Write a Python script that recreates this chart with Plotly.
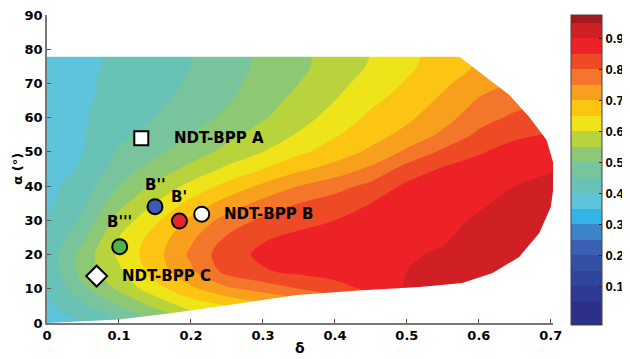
import numpy as np
import plotly.graph_objects as go

# ---------------- data ----------------
delta_grid = [0.0, 0.05, 0.10, 0.15, 0.20, 0.25, 0.30, 0.35, 0.40, 0.45, 0.50, 0.55, 0.60, 0.65, 0.72]
alpha_grid = [0, 5, 10, 15, 20, 25, 30, 35, 40, 45, 50, 55, 60, 65, 70, 75, 80]

# one list per delta column, values listed for alpha = 0, 5, ..., 80
ratio_by_delta = [
    [0.37, 0.39, 0.40, 0.41, 0.42, 0.41, 0.40, 0.39, 0.385, 0.38, 0.378, 0.376, 0.374, 0.372, 0.371, 0.37, 0.37],
    [0.40, 0.44, 0.49, 0.52, 0.52, 0.49, 0.46, 0.44, 0.425, 0.405, 0.40, 0.397, 0.395, 0.393, 0.391, 0.39, 0.39],
    [0.44, 0.50, 0.56, 0.59, 0.61, 0.60, 0.57, 0.535, 0.50, 0.475, 0.455, 0.44, 0.43, 0.42, 0.415, 0.41, 0.41],
    [0.49, 0.56, 0.63, 0.67, 0.68, 0.67, 0.64, 0.60, 0.56, 0.52, 0.49, 0.465, 0.45, 0.44, 0.435, 0.43, 0.43],
    [0.54, 0.62, 0.69, 0.74, 0.76, 0.74, 0.71, 0.665, 0.615, 0.565, 0.525, 0.50, 0.48, 0.465, 0.455, 0.45, 0.45],
    [0.59, 0.65, 0.74, 0.815, 0.83, 0.805, 0.77, 0.72, 0.665, 0.61, 0.565, 0.535, 0.51, 0.495, 0.485, 0.48, 0.48],
    [0.63, 0.68, 0.77, 0.845, 0.86, 0.845, 0.81, 0.765, 0.71, 0.65, 0.60, 0.57, 0.545, 0.53, 0.52, 0.51, 0.51],
    [0.66, 0.71, 0.80, 0.86, 0.875, 0.86, 0.835, 0.80, 0.75, 0.69, 0.64, 0.605, 0.58, 0.565, 0.55, 0.54, 0.54],
    [0.70, 0.75, 0.83, 0.87, 0.88, 0.87, 0.85, 0.825, 0.78, 0.72, 0.675, 0.645, 0.62, 0.60, 0.585, 0.57, 0.57],
    [0.74, 0.80, 0.86, 0.88, 0.89, 0.88, 0.87, 0.85, 0.815, 0.76, 0.71, 0.68, 0.66, 0.64, 0.62, 0.605, 0.60],
    [0.78, 0.85, 0.905, 0.90, 0.895, 0.89, 0.88, 0.87, 0.86, 0.82, 0.76, 0.715, 0.69, 0.67, 0.655, 0.64, 0.635],
    [0.82, 0.88, 0.91, 0.91, 0.905, 0.895, 0.89, 0.88, 0.87, 0.855, 0.81, 0.76, 0.73, 0.71, 0.69, 0.675, 0.67],
    [0.86, 0.90, 0.92, 0.92, 0.92, 0.915, 0.905, 0.895, 0.885, 0.87, 0.845, 0.81, 0.78, 0.755, 0.73, 0.705, 0.70],
    [0.88, 0.91, 0.925, 0.925, 0.925, 0.92, 0.915, 0.91, 0.90, 0.89, 0.87, 0.84, 0.81, 0.78, 0.755, 0.73, 0.72],
    [0.90, 0.92, 0.93, 0.93, 0.93, 0.925, 0.92, 0.915, 0.91, 0.90, 0.88, 0.86, 0.83, 0.80, 0.77, 0.745, 0.74],
]

# outline of the computed region (delta, alpha)
edge_delta = [0.0, 0.10, 0.175, 0.26, 0.347, 0.438, 0.518, 0.577, 0.619, 0.656, 0.684, 0.700, 0.705, 0.705, 0.694, 0.670, 0.642, 0.573, 0.0]
edge_alpha = [0.0, 1.0, 2.9, 5.5, 8.2, 9.6, 10.5, 11.7, 14.6, 19.3, 26.3, 34.0, 41.8, 45.6, 53.5, 60.2, 66.7, 77.8, 77.8]

point_labels = ["NDT-BPP A", "NDT-BPP B", "NDT-BPP C", "B''", "B'", "B'''"]
point_delta = [0.131, 0.215, 0.069, 0.150, 0.184, 0.101]
point_alpha = [54.0, 31.8, 13.7, 34.0, 29.8, 22.3]

x_ticks = [0, 0.1, 0.2, 0.3, 0.4, 0.5, 0.6, 0.7]
x_tick_text = ["0", "0.1", "0.2", "0.3", "0.4", "0.5", "0.6", "0.7"]
y_ticks = [0, 10, 20, 30, 40, 50, 60, 70, 80, 90]
cb_ticks = [0.1, 0.2, 0.3, 0.4, 0.5, 0.6, 0.7, 0.8, 0.9]

# ---------------- styling ----------------
level_colors = [
    "#2b2f88", "#2d3992", "#30449b", "#3450a5", "#3960b2", "#3d84c8",
    "#35b5e6", "#5dc4dc", "#68c2b6", "#78c49c", "#8dc874", "#b9d33c",
    "#efe41a", "#fcc513", "#f8a01e", "#f3762a", "#ef4a26", "#ec2226",
    "#d11f26", "#a3191d",
]
n = len(level_colors)
colorscale = [[0.0, level_colors[0]]]
for k, c in enumerate(level_colors):
    lo = max(0.0, (k + 0.25) / n)
    hi = min(1.0, (k + 1.25) / n)
    colorscale.append([lo, c])
    colorscale.append([hi, c])
colorscale[-1][0] = 1.0

FONT = "DejaVu Sans, Verdana, sans-serif"
FONT_NARROW = "Liberation Sans, Arial, sans-serif"

z = np.array(ratio_by_delta).T

fig = go.Figure()
fig.add_trace(go.Contour(
    x=delta_grid, y=alpha_grid, z=z,
    colorscale=colorscale,
    autocontour=False,
    contours=dict(start=0, end=0.95, size=0.05, coloring="fill", showlines=False),
    line=dict(width=0),
    hoverinfo="skip",
    colorbar=dict(
        x=1.0356, xanchor="left", xpad=0, ypad=0,
        y=0.497, yanchor="middle",
        thickness=31, thicknessmode="pixels",
        len=310, lenmode="pixels",
        tickvals=cb_ticks, ticktext=[f"{v:.1f}" for v in cb_ticks],
        ticks="inside", ticklen=3, tickcolor="#222",
        ticklabeloverflow="allow",
        tickfont=dict(family=FONT_NARROW, size=13, color="black", weight="bold"),
        outlinewidth=1, outlinecolor="#444",
    ),
))

# white mask outside the computed region
outer_x = [-0.02, -0.02, 0.75, 0.75, -0.02]
outer_y = [-2, 92, 92, -2, -2]
fig.add_trace(go.Scatter(
    x=outer_x + edge_delta + [edge_delta[0]],
    y=outer_y + edge_alpha + [edge_alpha[0]],
    mode="lines", fill="toself", fillcolor="white",
    line=dict(width=0, color="white"), hoverinfo="skip", showlegend=False,
))

symbols = ["square", "circle", "diamond", "circle", "circle", "circle"]
fills = ["white", "white", "white", "#3c5cb2", "#e8262a", "#4db34a"]
sizes = [14, 15, 16, 15, 15, 15]
fig.add_trace(go.Scatter(
    x=point_delta, y=point_alpha, mode="markers",
    marker=dict(symbol=symbols, color=fills, size=sizes, opacity=1,
                line=dict(color="black", width=2)),
    hoverinfo="skip", showlegend=False,
))

shifts = [(31, 0, "left"), (20, 0, "left"), (23, 0, "left"),
          (1, 22, "center"), (0, 24, "center"), (0, 25, "center")]
for lab, xd, ya, (dx, dy, anc) in zip(point_labels, point_delta, point_alpha, shifts):
    fig.add_annotation(x=xd, y=ya, text=f"<b>{lab}</b>", showarrow=False,
                       xanchor=anc, yanchor="middle", xshift=dx, yshift=dy,
                       font=dict(family=FONT, size=15, color="black"))

fig.add_annotation(x=0.5, y=-0.115, xref="paper", yref="paper", text="<b>δ</b>",
                   xanchor="center", yanchor="bottom",
                   showarrow=False, font=dict(family=FONT, size=14, color="black"))
fig.add_annotation(x=-0.06, y=0.5, xref="paper", yref="paper", text="<b>α (°)</b>",
                   xanchor="center", yanchor="middle",
                   textangle=-90, showarrow=False,
                   font=dict(family=FONT, size=13, color="black"))

axis_common = dict(showgrid=False, zeroline=False, showline=True,
                   linecolor="#777", linewidth=1.5, ticks="inside", ticklen=4,
                   tickcolor="#555", ticklabeloverflow="allow",
                   tickfont=dict(family=FONT, size=13, color="black", weight="bold"))
fig.update_xaxes(range=[0, 0.703], tickvals=x_ticks, ticktext=x_tick_text, **axis_common)
fig.update_yaxes(range=[0, 90], tickvals=y_ticks, **axis_common)

# the page body adds an 8 px offset, so the figure is 8 px smaller
fig.update_layout(
    width=622, height=351,
    margin=dict(l=39, r=77, t=7, b=36, autoexpand=False),
    paper_bgcolor="white", plot_bgcolor="white",
    showlegend=False,
)

fig.write_html("out.html")
